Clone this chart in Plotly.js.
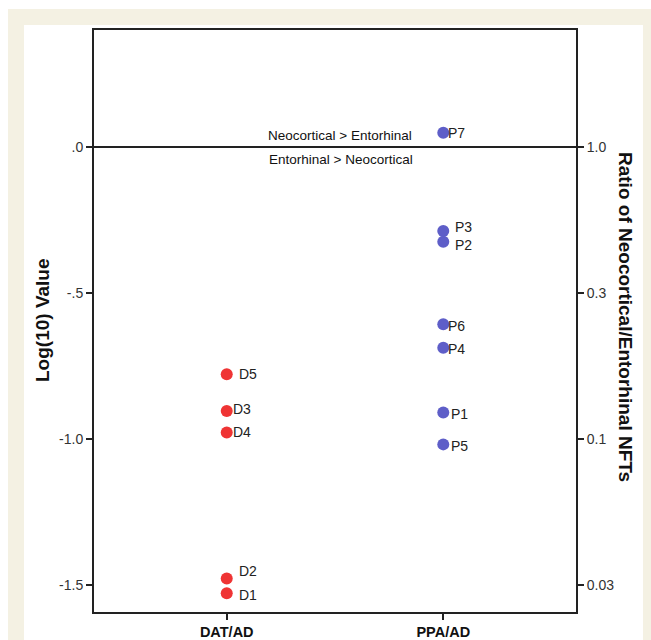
<!DOCTYPE html>
<html>
<head>
<meta charset="utf-8">
<script src="https://cdn.plot.ly/plotly-3.0.1.min.js"></script>
<style>html,body{margin:0;padding:0;background:#fff;}#chart{width:651px;height:640px;}</style>
</head>
<body>
<div id="chart"></div>
<script>
// Data (log10 of Neocortical/Entorhinal NFT ratio)
var groups = ["DAT/AD", "PPA/AD"];
var datLabels = ["D1", "D2", "D3", "D4", "D5"];
var datValues = [-1.528, -1.477, -0.904, -0.977, -0.778];
var ppaLabels = ["P1", "P2", "P3", "P4", "P5", "P6", "P7"];
var ppaValues = [-0.909, -0.324, -0.287, -0.687, -1.018, -0.607, 0.049];
var leftTickVals = [-1.5, -1.0, -0.5, 0];
var leftTickText = ["-1.5", "-1.0", "-.5", ".0"];
var rightTickText = ["0.03", "0.1", "0.3", "1.0"];

// label offsets (pixels) — styling only
var datShiftX = [10, 10, 4, 4, 10];
var datShiftY = [-2, 7, 2, 0, 0];
var ppaShiftX = [6, 10, 10, 3, 6, 3, 3];
var ppaShiftY = [-1, -3, 4, -1, -2, -2, 0];

var FONT = "Liberation Sans, Arial, sans-serif";
var L = 94, R = 576, T = 30, B = 612, W = 651, H = 640;
function px(x){ return (x - L) / (R - L); }
function py(y){ return (B - y) / (B - T); }

var traces = [
  {
    type: "scatter", mode: "markers",
    x: datValues.map(function(){ return groups[0]; }), y: datValues,
    marker: {color: "#ef3434", size: 12},
    cliponaxis: false, hoverinfo: "skip", showlegend: false
  },
  {
    type: "scatter", mode: "markers",
    x: ppaValues.map(function(){ return groups[1]; }), y: ppaValues,
    marker: {color: "#5e5ec8", size: 12},
    cliponaxis: false, hoverinfo: "skip", showlegend: false
  },
  {
    type: "scatter", mode: "markers", x: [groups[0]], y: [0], yaxis: "y2",
    marker: {opacity: 0}, hoverinfo: "skip", showlegend: false
  }
];

var annotations = [
  {xref: "paper", yref: "y", x: px(340), y: 0, xanchor: "center", yanchor: "bottom", yshift: 2, showarrow: false,
   text: "Neocortical > Entorhinal", font: {family: FONT, size: 13.5, color: "#111"}},
  {xref: "paper", yref: "y", x: px(341), y: 0, xanchor: "center", yanchor: "top", yshift: -3, showarrow: false,
   text: "Entorhinal > Neocortical", font: {family: FONT, size: 13.5, color: "#111"}},
  {xref: "paper", yref: "paper", x: px(626), y: py(317), xanchor: "center", yanchor: "middle", showarrow: false, textangle: 90,
   text: "Ratio of Neocortical/Entorhinal NFTs", font: {family: FONT, size: 19, color: "#111", weight: "bold"}},
  {xref: "paper", yref: "paper", x: px(42), y: py(320), xanchor: "center", yanchor: "middle", showarrow: false, textangle: -90,
   text: "Log(10) Value", font: {family: FONT, size: 19, color: "#111", weight: "bold"}}
];
datLabels.forEach(function(t, i){
  annotations.push({x: groups[0], y: datValues[i], xref: "x", yref: "y", text: t, showarrow: false,
    xanchor: "left", yanchor: "middle", xshift: datShiftX[i], yshift: datShiftY[i],
    font: {family: FONT, size: 14, color: "#222"}});
});
ppaLabels.forEach(function(t, i){
  annotations.push({x: groups[1], y: ppaValues[i], xref: "x", yref: "y", text: t, showarrow: false,
    xanchor: "left", yanchor: "middle", xshift: ppaShiftX[i], yshift: ppaShiftY[i],
    font: {family: FONT, size: 14, color: "#222"}});
});

var layout = {
  width: W, height: H,
  margin: {l: L, r: W - R, t: T, b: H - B, pad: 0},
  paper_bgcolor: "#ffffff", plot_bgcolor: "#ffffff",
  font: {family: FONT, color: "#222"},
  xaxis: {
    type: "category", categoryorder: "array", categoryarray: groups,
    range: [-0.613, 1.613], showline: true, mirror: true,
    linecolor: "#222", linewidth: 2, ticks: "outside", ticklen: 6, tickwidth: 2, tickcolor: "#222",
    showgrid: false, zeroline: false,
    tickfont: {family: FONT, size: 14.5, color: "#111", weight: "bold"}
  },
  yaxis: {
    range: [-1.592, 0.401], showline: true, linecolor: "#222", linewidth: 2,
    ticks: "outside", ticklen: 6, tickwidth: 2, tickcolor: "#222",
    tickvals: leftTickVals, ticktext: leftTickText,
    showgrid: false, zeroline: false,
    tickfont: {family: FONT, size: 14, color: "#333"}
  },
  yaxis2: {
    overlaying: "y", side: "right",
    range: [-1.592, 0.401], showline: true, linecolor: "#222", linewidth: 2,
    ticks: "outside", ticklen: 6, tickwidth: 2, tickcolor: "#222",
    tickvals: leftTickVals, ticktext: rightTickText,
    showgrid: false, zeroline: false,
    tickfont: {family: FONT, size: 14, color: "#333"}
  },
  shapes: [
    {type: "rect", xref: "paper", yref: "paper", x0: px(8), x1: px(W + 2), y0: py(9), y1: py(H + 2),
     fillcolor: "#f4f1e3", line: {width: 0}, layer: "below"},
    {type: "rect", xref: "paper", yref: "paper", x0: px(24), x1: px(643), y0: py(25), y1: py(H + 2),
     fillcolor: "#ffffff", line: {width: 0}, layer: "below"},
    {type: "line", xref: "paper", yref: "y", x0: 0, x1: 1, y0: 0, y1: 0,
     line: {color: "#222", width: 2}}
  ],
  annotations: annotations
};

Plotly.newPlot("chart", traces, layout, {staticPlot: true, displayModeBar: false});
</script>
</body>
</html>
